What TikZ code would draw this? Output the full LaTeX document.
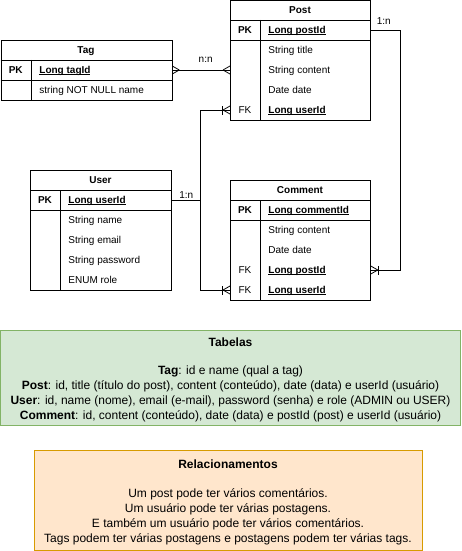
\documentclass[tikz,border=0pt]{standalone}
\usepackage{fontspec}
\setmainfont{Liberation Sans}
\usetikzlibrary{calc}
\definecolor{tabfill}{HTML}{D5E8D4}
\definecolor{tabline}{HTML}{82B366}
\definecolor{relfill}{HTML}{FFE6CC}
\definecolor{relline}{HTML}{D79B00}
\def\crowfoot(#1)(#2){\draw ($(#1)+({#2*7},0)$) -- ($(#1)+(0,4)$) ($(#1)+({#2*7},0)$) -- ($(#1)+(0,-4)$);}
\def\crowbar(#1)(#2){\draw ($(#1)+({#2*7.5},4.5)$) -- ($(#1)+({#2*7.5},-4.5)$);}
\newcommand\keyul[1]{\setbox0\hbox{#1}\rlap{\rule[-1.4pt]{\wd0}{0.7pt}}\box0}

\begin{document}
\begin{tikzpicture}[x=1pt, y=-1pt, line width=0.8pt,
	tbl/.style={draw, minimum width=140, minimum height=120, anchor=north west, inner sep=0},
	fld/.style={inner sep=0, text height=7.5pt, text depth=0.5pt, font=\fontsize{10}{12}\selectfont},
	hdr/.style={fld, font=\fontsize{10}{12}\selectfont\bfseries},
	lbl/.style={inner sep=0, font=\fontsize{10}{12}\selectfont},
	note/.style={align=center, inner sep=0, line width=1pt, font=\fontsize{12}{15}\selectfont}]
			%%%%% START %%%%%
			\useasboundingbox (0,0) rectangle (461,551);
			
			% Tag
			\node[tbl, minimum width=171, minimum height=60] (tag) at (0.5,40) {};
			\draw (0.5,60) -- (171.5,60);
			\draw (0.5,80) -- (171.5,80);
			\draw (31,60) -- (31,100);
			\node[hdr] (tag-title) at (86,50) {Tag};
			\node[hdr] (tag-pk) at (15.75,70) {PK};
			\node[hdr, anchor=west] (tag-id) at (39,70) {\keyul{Long tagId}};
			\node[fld, anchor=west] (tag-name) at (39,90) {string NOT NULL name};
			
			% Post
			\node[tbl, minimum height=119.5] (post) at (230,0.5) {};
			\draw (230,20) -- (370,20);
			\draw (230,40) -- (370,40);
			\draw (260,20) -- (260,120);
			\node[hdr] (post-title) at (300,10) {Post};
			\node[hdr] (post-pk) at (245,30) {PK};
			\node[hdr, anchor=west] (post-id) at (268,30) {\keyul{Long postId}};
			\node[fld, anchor=west] (post-name) at (268,50) {String title};
			\node[fld, anchor=west] (post-content) at (268,70) {String content};
			\node[fld, anchor=west] (post-date) at (268,90) {Date date};
			\node[fld] (post-user) at (245,110) {FK};
			\node[hdr, anchor=west] (post-userid) at (268,110) {\keyul{Long userId}};
			
			% User
			\node[tbl, minimum width=141] (user) at (30,170) {};
			\draw (30,190) -- (171,190);
			\draw (30,210) -- (171,210);
			\draw (60,190) -- (60,290);
			\node[hdr] (user-title) at (100.5,180) {User};
			\node[hdr] (user-pk) at (45,200) {PK};
			\node[hdr, anchor=west] (user-id) at (68,200) {\keyul{Long userId}};
			\node[fld, anchor=west] (user-name) at (68,220) {String name};
			\node[fld, anchor=west] (user-email) at (68,240) {String email};
			\node[fld, anchor=west] (user-pass) at (68,260) {String password};
			\node[fld, anchor=west] (user-role) at (68,280) {ENUM role};
			
			% Comment
			\node[tbl] (comment) at (230,180) {};
			\draw (230,200) -- (370,200);
			\draw (230,220) -- (370,220);
			\draw (260,200) -- (260,300);
			\node[hdr] (comment-title) at (300,190) {Comment};
			\node[hdr] (comment-pk) at (245,210) {PK};
			\node[hdr, anchor=west] (comment-id) at (268,210) {\keyul{Long commentId}};
			\node[fld, anchor=west] (comment-content) at (268,230) {String content};
			\node[fld, anchor=west] (comment-date) at (268,250) {Date date};
			\node[fld] (comment-post) at (245,270) {FK};
			\node[hdr, anchor=west] (comment-postid) at (268,270) {\keyul{Long postId}};
			\node[fld] (comment-user) at (245,290) {FK};
			\node[hdr, anchor=west] (comment-userid) at (268,290) {\keyul{Long userId}};
			
			% relations
			\draw (tag.east |- tag-pk) coordinate (nn-a) -- node[lbl, anchor=base, xshift=4.5pt, yshift=7pt] (nn-lbl) {n:n} (post.west |- tag-pk) coordinate (nn-b);
			\draw (post.east |- post-pk) coordinate (pc-a) -- node[lbl, anchor=base, xshift=-2pt, yshift=5pt] (pc-lbl) {1:n} ++(30,0) |- (comment.east |- comment-post) coordinate (pc-b);
			\draw (user.east |- user-pk) coordinate (uc-a) -- node[lbl, anchor=base, yshift=2pt] (uc-lbl) {1:n} ++(29,0) coordinate (uc-split) |- (post.west |- post-user) coordinate (up-b);
			\draw (uc-split) |- (comment.west |- comment-user) coordinate (uc-b);
			
			\crowfoot(nn-a)(1)
			\crowfoot(nn-b)(-1)
			\crowfoot(up-b)(-1)
			\crowbar(up-b)(-1)
			\crowfoot(pc-b)(1)
			\crowbar(pc-b)(1)
			\crowfoot(uc-b)(-1)
			\crowbar(uc-b)(-1)
			
			% notes
			\node[note, fill=tabfill, draw=tabline, minimum width=460, minimum height=95] (tables) at (230.5,378) {};
			\node[note] (tables-text) at (230.5,380) {\textbf{Tabelas}\\[13pt]
				\textbf{Tag}: id e name (qual a tag)\\
				\textbf{Post}: id, title (título do post), content (conteúdo), date (data) e userId (usuário)\\
				\textbf{User}: id, name (nome), email (e-mail), password (senha) e role (ADMIN ou USER)\\
				\textbf{Comment}: id, content (conteúdo), date (data) e postId (post) e userId (usuário)};
			\node[note, fill=relfill, draw=relline, minimum width=388, minimum height=100] (relations) at (228,500.5) {};
			\node[note] (relations-text) at (228,502) {\textbf{Relacionamentos}\\[14pt]
				Um post pode ter vários comentários.\\
				Um usuário pode ter várias postagens.\\
				E também um usuário pode ter vários comentários.\\
				Tags podem ter várias postagens e postagens podem ter várias tags.};
			
			%%%%% END %%%%%
\end{tikzpicture}
\end{document}
